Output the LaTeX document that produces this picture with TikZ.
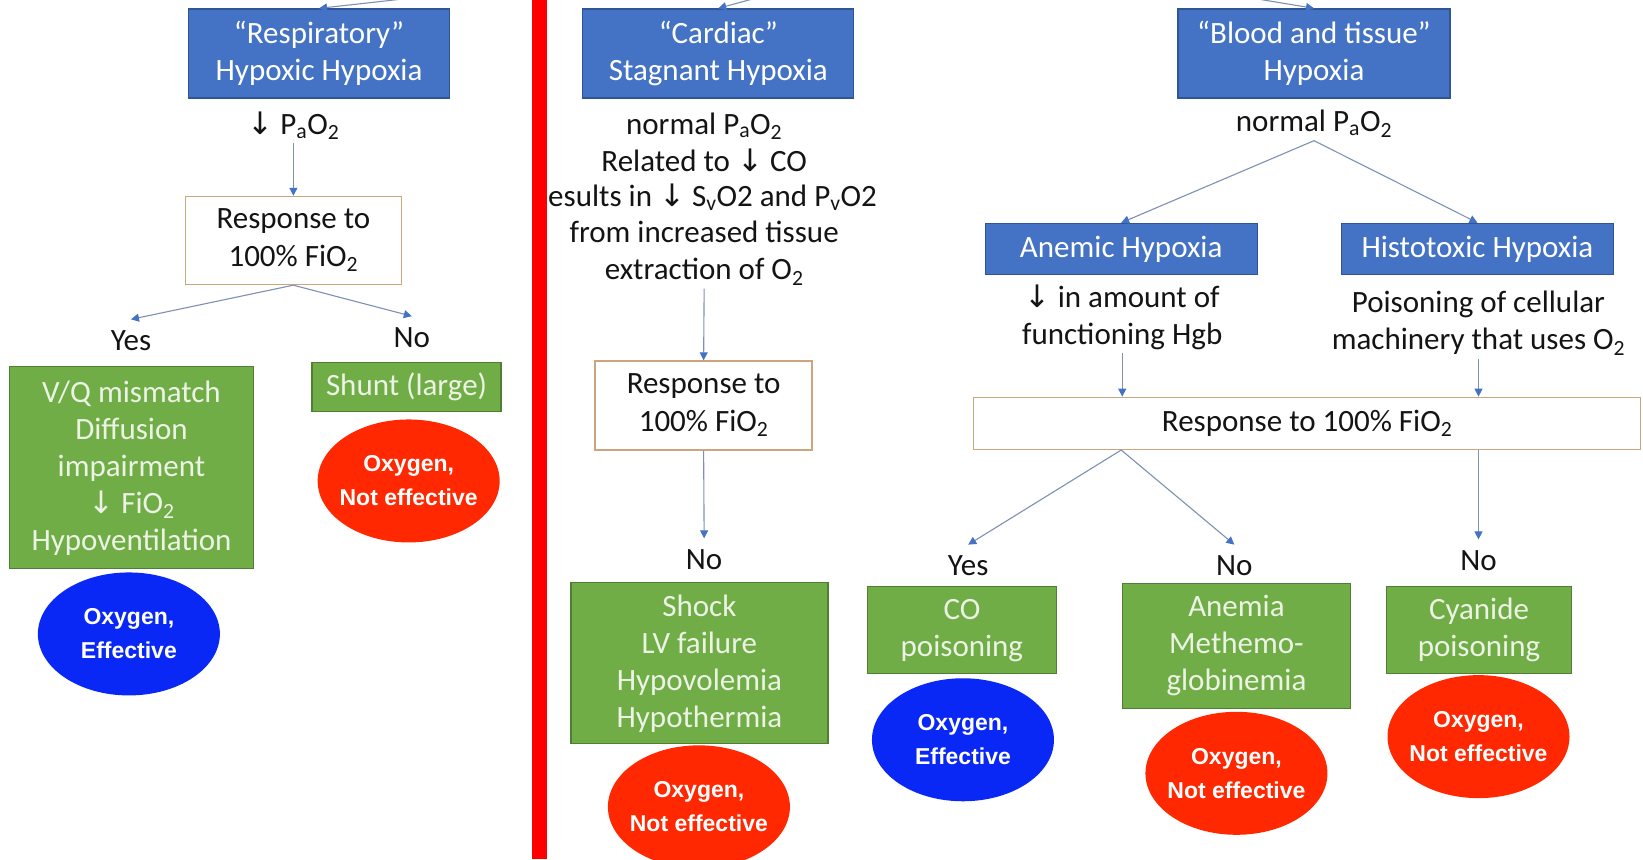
\documentclass[tikz,border=0pt]{standalone}
\usepackage{fontspec}
\setmainfont{Carlito}
\newfontfamily\ovalfont{Liberation Sans}
\newfontfamily\arrowfont{DejaVu Sans}
\newcommand\dn{{\arrowfont ↓}}
\usetikzlibrary{arrows.meta,shapes.geometric}
\definecolor{hypblue}{RGB}{68,114,196}
\definecolor{hypedge}{RGB}{47,85,151}
\definecolor{causegreen}{RGB}{112,173,71}
\definecolor{causeedge}{RGB}{80,126,50}
\definecolor{causetext}{RGB}{236,243,229}
\definecolor{testedge}{RGB}{205,165,125}
\definecolor{linkgray}{RGB}{125,145,180}
\definecolor{tipblue}{RGB}{68,114,196}
\definecolor{ovalred}{RGB}{255,40,0}
\definecolor{ovalblue}{RGB}{10,40,245}
\definecolor{barred}{RGB}{255,0,0}
\definecolor{inktext}{RGB}{20,20,20}
\tikzset{
  hyp/.style={draw=hypedge,fill=hypblue,text=white,line width=1.2pt,align=center,inner sep=0pt,font=\fontsize{31}{37.5}\selectfont},
  cause/.style={draw=causeedge,fill=causegreen,text=causetext,line width=1.2pt,align=center,inner sep=0pt,font=\fontsize{31}{37}\selectfont},
  test/.style={draw=testedge,fill=white,text=inktext,line width=1.4pt,align=center,inner sep=0pt,font=\fontsize{31}{37.5}\selectfont},
  note/.style={text=inktext,align=center,font=\fontsize{31}{37}\selectfont},
  ans/.style={text=inktext,inner sep=7pt,text height=24pt,text depth=4pt,font=\fontsize{31}{36}\selectfont},
  oval/.style={ellipse,fill=#1,text=white,align=center,inner ysep=0pt,inner xsep=-5pt,minimum width=182pt,minimum height=123pt,font=\ovalfont\bfseries\fontsize{23}{34}\selectfont},
  flow/.style={draw=linkgray,line width=1.1pt,-{Triangle[length=8pt,width=8pt,color=tipblue]}}
}
\begin{document}
\begin{tikzpicture}[x=1.0478pt,y=-1.0478pt]
\useasboundingbox (0,0) rectangle (1568,820);
\fill[white] (0,0) rectangle (1568,820);
\clip (0,0) rectangle (1568,820);
\coordinate (inR) at (385,-1); \coordinate (inC) at (722,-2); \coordinate (inB) at (1200,-1);

\node[hyp,minimum width=261pt,minimum height=89pt] (resp) at (304.5,51) {“Respiratory”\\Hypoxic Hypoxia};
\node[note] (rpao) at (280,120) {\dn\ P\textsubscript{a}O\textsubscript{2}};
\node[test,minimum width=216pt,minimum height=88pt] (rtest) at (280,229.5) {Response to\\100\% FiO\textsubscript{2}};
\node[ans] (ryes) at (125,325) {Yes}; \node[ans] (rno) at (393,322) {No};
\node[cause,minimum width=244pt,minimum height=202pt] (vq) at (125.5,446.5) {V/Q mismatch\\Diffusion\\impairment\\\dn\ FiO\textsubscript{2}\\Hypoventilation};
\node[cause,minimum width=189pt,minimum height=49pt] (shunt) at (388,369.5) {Shunt (large)};
\node[oval=ovalblue] (vqox) at (123,605) {Oxygen,\\Effective};
\node[oval=ovalred] (shox) at (390,459) {Oxygen,\\Not effective};
\draw[flow] (inR) -- (resp.north); \draw[flow] (rpao.south) -- (rtest.north);
\draw[flow] (rtest.south) -- (ryes.north); \draw[flow] (rtest.south) -- (rno.north);

\node[hyp,minimum width=271pt,minimum height=89pt] (card) at (685.5,51) {“Cardiac”\\Stagnant Hypoxia};
\node[note] (cnorm) at (672,135.5) {normal P\textsubscript{a}O\textsubscript{2}\\Related to \dn\ CO};
\node[note] (cres) at (680,188) {esults in \dn\ S\textsubscript{v}O2 and P\textsubscript{v}O2};
\node[note] (cext) at (672,241.5) {from increased tissue\\extraction of O\textsubscript{2}};
\node[test,minimum width=217pt,minimum height=89pt] (ctest) at (671.5,387) {Response to\\100\% FiO\textsubscript{2}};
\node[ans] (cno) at (672,534) {No};
\node[cause,minimum width=257pt,minimum height=161pt] (shock) at (667.5,633) {Shock\\LV failure\\Hypovolemia\\Hypothermia};
\node[oval=ovalred] (shockox) at (667,770) {Oxygen,\\Not effective};
\draw[flow] (inC) -- (card.north); \draw[flow] (cext.south) -- (ctest.north); \draw[flow] (ctest.south) -- (cno.north);

\node[hyp,minimum width=272pt,minimum height=89pt] (blood) at (1254,51) {“Blood and tissue”\\Hypoxia};
\node[note] (bnorm) at (1254,118) {normal P\textsubscript{a}O\textsubscript{2}};
\node[hyp,minimum width=272pt,minimum height=51pt] (anem) at (1070,237.5) {Anemic Hypoxia};
\node[hyp,minimum width=272pt,minimum height=51pt] (histo) at (1410,237.5) {Histotoxic Hypoxia};
\node[note] (adesc) at (1071,303) {\dn\ in amount of\\functioning Hgb};
\node[note] (hdesc) at (1411,308.5) {Poisoning of cellular\\machinery that uses O\textsubscript{2}};
\node[test,minimum width=667pt,minimum height=52pt] (btest) at (1247.5,404) {Response to 100\% FiO\textsubscript{2}};
\node[ans] (byes) at (924,540) {Yes}; \node[ans] (bno) at (1178,540) {No}; \node[ans] (hno) at (1411,535) {No};
\node[cause,minimum width=189pt,minimum height=87pt] (co) at (918,601.5) {CO\\poisoning};
\node[cause,minimum width=228pt,minimum height=125pt] (anemia) at (1180,616.5) {Anemia\\Methemo-\\globinemia};
\node[cause,minimum width=185pt,minimum height=87pt] (cyan) at (1411.5,601.5) {Cyanide\\poisoning};
\node[oval=ovalblue] (coox) at (919,706) {Oxygen,\\Effective};
\node[oval=ovalred] (anox) at (1180,738) {Oxygen,\\Not effective};
\node[oval=ovalred] (cyox) at (1411,703) {Oxygen,\\Not effective};
\draw[flow] (inB) -- (blood.north);
\draw[flow] (bnorm.south) -- (anem.north); \draw[flow] (bnorm.south) -- (histo.north);
\draw[flow] (adesc.south) -- (btest.north -| adesc.south); \draw[flow] (hdesc.south) -- (btest.north -| hdesc.south);
\draw[flow] (btest.south -| anem.south) -- (byes.north); \draw[flow] (btest.south -| anem.south) -- (bno.north);
\draw[flow] (btest.south -| hdesc.south) -- (hno.north);

\fill[barred] (508,0) rectangle (522,820);
\end{tikzpicture}
\end{document}
